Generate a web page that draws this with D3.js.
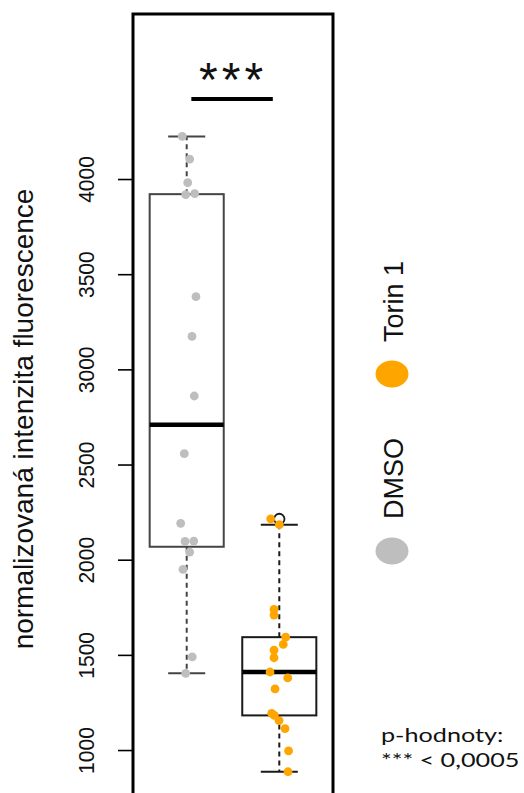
<!DOCTYPE html>
<html>
<head>
<meta charset="utf-8">
<script src="https://cdn.jsdelivr.net/npm/d3@7/dist/d3.min.js"></script>
<style>
  html, body { margin: 0; padding: 0; background: #ffffff; }
  svg { display: block; }
</style>
</head>
<body>
<svg id="chart" width="524" height="793"></svg>
<script>
// Group names and measured values (normalised fluorescence intensity)
const categories = ["DMSO", "Torin 1"];
const dmsoValues = [4224, 4105, 3981, 3923, 3918, 3382, 3173, 2860, 2557, 2191, 2098, 2096, 2040, 1949, 1489, 1403];
const torinValues = [2214, 2184, 1739, 1709, 1593, 1555, 1525, 1485, 1410, 1379, 1321, 1193, 1182, 1155, 1113, 996, 886];
// Horizontal jitter of each point, in category units
const dmsoJitter = [-0.048, 0.032, 0.011, 0.086, -0.011, 0.100, 0.057, 0.082, -0.026, -0.065, 0.076, -0.018, 0.032, -0.040, 0.060, -0.011];
const torinJitter = [-0.093, 0.000, -0.057, -0.057, 0.069, 0.043, -0.057, -0.057, -0.100, 0.091, -0.046, -0.082, -0.054, -0.003, 0.062, 0.100, 0.094];
const yTicks = [1000, 1500, 2000, 2500, 3000, 3500, 4000];
const yTitle = "normalizovaná intenzita fluorescence";
const sigLabel = "***";
const pNoteLines = ["p-hodnoty:", "*** < 0,0005"];
const groupColors = ["#BEBEBE", "#FFA500"];

const groups = [
  { name: categories[0], values: dmsoValues, jitter: dmsoJitter, color: groupColors[0], border: "#444" },
  { name: categories[1], values: torinValues, jitter: torinJitter, color: groupColors[1], border: "#1a1a1a" }
];

// Tukey five-number summary, same rule as R's fivenum()
function fivenum(values) {
  const x = values.slice().sort((a, b) => a - b);
  const n = x.length;
  const n4 = Math.floor((n + 3) / 2) / 2;
  const d = [1, n4, (n + 1) / 2, n + 1 - n4, n];
  return d.map(k => 0.5 * (x[Math.floor(k) - 1] + x[Math.ceil(k) - 1]));
}
function boxStats(values) {
  const [, q1, med, q3] = fivenum(values);
  const iqr = q3 - q1;
  const lo = q1 - 1.5 * iqr, hi = q3 + 1.5 * iqr;
  const inside = values.filter(v => v >= lo && v <= hi);
  return {
    q1, med, q3,
    lower: d3.min(inside), upper: d3.max(inside),
    outliers: values.filter(v => v < lo || v > hi)
  };
}

const svg = d3.select("#chart");
svg.append("rect").attr("width", 524).attr("height", 793).attr("fill", "#fff");

const x = d3.scaleLinear().domain([0.42, 2.58]).range([133, 333]);
const y = d3.scaleLinear().domain([685, 4867]).range([810, 14]);

const plot = svg.append("g");

// Boxplots
groups.forEach((g, i) => {
  const pos = i + 1;
  const s = boxStats(g.values);
  const bg = plot.append("g").attr("stroke", g.border).attr("fill", "none");
  // whiskers
  bg.append("line").attr("x1", x(pos)).attr("x2", x(pos)).attr("y1", y(s.q3)).attr("y2", y(s.upper))
    .attr("stroke-width", 2).attr("stroke-dasharray", "5,4");
  bg.append("line").attr("x1", x(pos)).attr("x2", x(pos)).attr("y1", y(s.q1)).attr("y2", y(s.lower))
    .attr("stroke-width", 2).attr("stroke-dasharray", "5,4");
  // staples
  [s.upper, s.lower].forEach(v => {
    bg.append("line").attr("x1", x(pos - 0.2)).attr("x2", x(pos + 0.2)).attr("y1", y(v)).attr("y2", y(v))
      .attr("stroke-width", 2);
  });
  // box
  bg.append("rect").attr("x", x(pos - 0.4)).attr("width", x(pos + 0.4) - x(pos - 0.4))
    .attr("y", y(s.q3)).attr("height", y(s.q1) - y(s.q3)).attr("stroke-width", 2);
  // median
  bg.append("line").attr("x1", x(pos - 0.4)).attr("x2", x(pos + 0.4)).attr("y1", y(s.med)).attr("y2", y(s.med))
    .attr("stroke", "#000").attr("stroke-width", 4.5);
  // outliers
  s.outliers.forEach(v => {
    bg.append("circle").attr("cx", x(pos)).attr("cy", y(v)).attr("r", 5.2).attr("stroke-width", 1.8);
  });
});

// Jittered raw points
groups.forEach((g, i) => {
  const pos = i + 1;
  plot.append("g").selectAll("circle")
    .data(g.values.map((v, k) => ({ v, j: g.jitter[k] })))
    .join("circle")
    .attr("cx", d => x(pos + d.j))
    .attr("cy", d => y(d.v))
    .attr("r", 4.4)
    .attr("fill", g.color);
});

// Frame
svg.append("rect").attr("x", 133).attr("y", 14).attr("width", 200).attr("height", 796)
  .attr("fill", "none").attr("stroke", "#000").attr("stroke-width", 3);

// Y axis with rotated tick labels
const yAxis = svg.append("g").attr("transform", "translate(133,0)")
  .call(d3.axisLeft(y).tickValues(yTicks).tickSize(15).tickSizeOuter(0).tickFormat(d3.format("d")));
yAxis.select(".domain").remove();
yAxis.selectAll(".tick line").attr("stroke", "#000").attr("stroke-width", 1.6);
yAxis.selectAll(".tick text")
  .attr("transform", "rotate(-90) scale(1,1.08)")
  .attr("x", 0).attr("y", -36).attr("dy", 0)
  .attr("text-anchor", "middle")
  .attr("fill", "#111")
  .style("font-family", "'Liberation Sans', Arial, sans-serif")
  .style("font-size", "21px");

// Y axis title
svg.append("text")
  .attr("transform", "translate(33,419) rotate(-90)")
  .attr("text-anchor", "middle")
  .attr("fill", "#111")
  .style("font-family", "'Liberation Sans', Arial, sans-serif")
  .style("font-size", "28px")
  .text(yTitle);

// Significance bracket
const sigY = 4420;
svg.append("line").attr("x1", x(1.05)).attr("x2", x(1.93)).attr("y1", y(sigY)).attr("y2", y(sigY))
  .attr("stroke", "#000").attr("stroke-width", 4);
svg.append("text")
  .attr("x", x(1.48) + 2).attr("y", y(sigY) - 3)
  .attr("text-anchor", "middle")
  .style("font-family", "'Liberation Sans', Arial, sans-serif")
  .style("font-size", "48px")
  .style("letter-spacing", "4px")
  .attr("fill", "#111")
  .text(sigLabel);

// Legend, laid out horizontally and turned upright
const legend = svg.append("g").attr("transform", "translate(392,551) rotate(-90)");
groups.forEach((g, i) => {
  const item = legend.append("g").attr("transform", `translate(${i * 177},0)`);
  item.append("ellipse").attr("rx", 13.5).attr("ry", 16.5).attr("fill", g.color);
  item.append("text").attr("x", 32).attr("y", 11)
    .style("font-family", "'Liberation Sans', Arial, sans-serif")
    .style("font-size", "27px")
    .attr("fill", "#111")
    .text(g.name);
});

// p-value note, one text per line
pNoteLines.forEach((t, k) => {
  svg.append("text")
    .attr("transform", `translate(381,${742 + k * 25}) scale(1.26,1)`)
    .style("font-family", "Lato, 'Open Sans', sans-serif")
    .style("font-size", "20px")
    .attr("fill", "#111")
    .text(t);
});
</script>
</body>
</html>
